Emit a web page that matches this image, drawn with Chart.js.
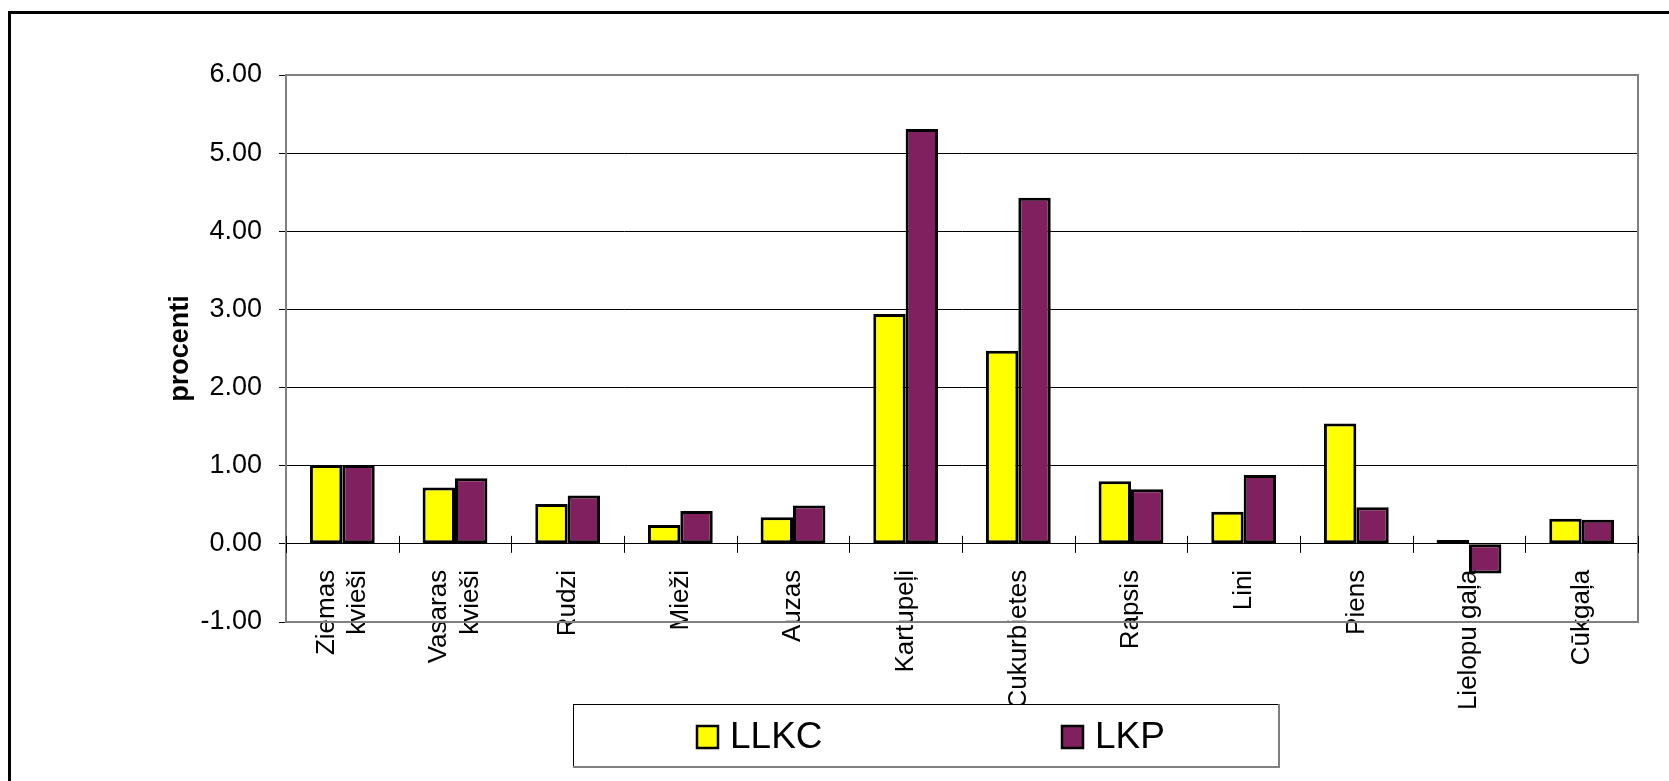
<!DOCTYPE html>
<html>
<head>
<meta charset="utf-8">
<script src="https://cdn.jsdelivr.net/npm/chart.js@4.4.1/dist/chart.umd.min.js"></script>
<style>
  html, body { margin: 0; padding: 0; background: #fff; }
  #wrap { position: relative; width: 1669px; height: 781px; }
</style>
</head>
<body>
<div id="wrap"><canvas id="chart"></canvas></div>
<script>
// categories (multi-line where the label wraps)
const categories = [
  ['Ziemas', 'kvieši'], ['Vasaras', 'kvieši'], 'Rudzi', 'Mieži', 'Auzas',
  'Kartupeļi', 'Cukurbietes', 'Rapsis', 'Lini', 'Piens', 'Lielopu gaļa', 'Cūkgaļa'
];
const seriesNames = ['LLKC', 'LKP'];
const llkcValues = [1.01, 0.72, 0.51, 0.24, 0.34, 2.94, 2.47, 0.80, 0.41, 1.54, 0.05, 0.32];
const lkpValues = [1.01, 0.84, 0.62, 0.42, 0.49, 5.31, 4.43, 0.70, 0.88, 0.47, -0.38, 0.31];
const yMin = -1, yMax = 6, yStep = 1;
const yTitle = 'procenti';

const FONT = "'Liberation Sans', Arial, sans-serif";
const X_FONT_SIZE = 26;
const X_LINE_HEIGHT = 1.23;

// outer frame, plot border and tick marks crossing the zero line
const framePlugin = {
  id: 'frame',
  beforeDraw(chart) {
    const ctx = chart.ctx;
    ctx.save();
    ctx.fillStyle = '#fff';
    ctx.fillRect(0, 0, chart.width, chart.height);
    ctx.restore();
    // centre wrapped category labels on their tick
    const lh = X_FONT_SIZE * X_LINE_HEIGHT;
    chart.scales.x.getLabelItems(chart.chartArea).forEach(it => {
      if (Array.isArray(it.label) && it.label.length > 1 && !it._centred) {
        it.options.translation[0] -= (it.label.length - 1) * lh / 2;
        it._centred = true;
      }
    });
  },
  afterDraw(chart) {
    const ctx = chart.ctx;
    const a = chart.chartArea;
    const xs = chart.scales.x;
    const ys = chart.scales.y;
    ctx.save();
    // plot area border
    ctx.strokeStyle = '#808080';
    ctx.lineWidth = 2;
    ctx.strokeRect(a.left, a.top, a.right - a.left, a.bottom - a.top);
    // category separators across the axis
    const y0 = ys.getPixelForValue(0);
    ctx.strokeStyle = '#000';
    ctx.lineWidth = 1;
    ctx.beginPath();
    for (let i = 0; i <= categories.length; i++) {
      const x = Math.round(xs.getPixelForValue(i - 0.5)) + 0.5;
      ctx.moveTo(x, y0 - 8);
      ctx.lineTo(x, y0 + 9);
    }
    ctx.stroke();
    // outer frame (left and top edges)
    ctx.strokeStyle = '#000';
    ctx.lineWidth = 3;
    ctx.beginPath();
    ctx.moveTo(9.5, chart.height + 5);
    ctx.lineTo(9.5, 12.5);
    ctx.lineTo(chart.width + 5, 12.5);
    ctx.stroke();
    ctx.restore();
  }
};

// boxed legend under the plot
const boxLegend = {
  id: 'boxLegend',
  afterDraw(chart, args, opts) {
    const ctx = chart.ctx;
    ctx.save();
    ctx.fillStyle = '#fff';
    ctx.fillRect(opts.x, opts.y, opts.w, opts.h);
    ctx.strokeStyle = '#000';
    ctx.lineWidth = 1;
    ctx.strokeRect(opts.x + 0.5, opts.y + 0.5, opts.w, opts.h);
    ctx.strokeStyle = '#808080';
    ctx.lineWidth = 2;
    ctx.beginPath();
    ctx.moveTo(opts.x + opts.w + 1, opts.y);
    ctx.lineTo(opts.x + opts.w + 1, opts.y + opts.h + 1);
    ctx.lineTo(opts.x, opts.y + opts.h + 1);
    ctx.stroke();
    ctx.font = opts.fontSize + 'px ' + FONT;
    ctx.textBaseline = 'middle';
    chart.data.datasets.forEach((ds, i) => {
      const ix = opts.itemX[i];
      const cy = opts.y + opts.h / 2 + 2;
      ctx.fillStyle = ds.backgroundColor;
      ctx.fillRect(ix, cy - 11, 21, 22);
      ctx.strokeStyle = '#000';
      ctx.lineWidth = 2.5;
      ctx.strokeRect(ix, cy - 11, 21, 22);
      ctx.fillStyle = '#000';
      ctx.fillText(ds.label, ix + 33, cy + 1);
    });
    ctx.restore();
  }
};

new Chart(document.getElementById('chart'), {
  type: 'bar',
  data: {
    labels: categories,
    datasets: [
      {
        label: seriesNames[0],
        data: llkcValues,
        backgroundColor: '#FFFF00',
        borderColor: '#000',
        borderWidth: 3,
        borderSkipped: false
      },
      {
        label: seriesNames[1],
        data: lkpValues,
        backgroundColor: '#80205E',
        borderColor: '#000',
        borderWidth: 3,
        borderSkipped: false
      }
    ]
  },
  options: {
    responsive: true,
    maintainAspectRatio: false,
    animation: false,
    categoryPercentage: 0.575,
    barPercentage: 1.0,
    layout: { padding: { left: 0, top: 75, right: 31, bottom: 159 } },
    plugins: {
      legend: { display: false },
      tooltip: { enabled: false },
      boxLegend: { x: 573, y: 704, w: 705, h: 62, fontSize: 37, itemX: [697, 1062] }
    },
    scales: {
      x: {
        position: { y: 0 },
        grid: { display: false, drawOnChartArea: false },
        border: { display: true, color: '#000', width: 1 },
        ticks: {
          autoSkip: false,
          minRotation: 90,
          maxRotation: 90,
          padding: 18,
          color: '#000',
          font: { family: FONT, size: X_FONT_SIZE, lineHeight: X_LINE_HEIGHT }
        }
      },
      y: {
        min: yMin,
        max: yMax,
        afterFit(scale) { scale.width = 286; },
        grid: { color: '#000', lineWidth: 1, tickLength: 7, tickColor: '#000' },
        border: { display: true, color: '#808080', width: 2 },
        ticks: {
          stepSize: yStep,
          padding: 17,
          color: '#000',
          font: { family: FONT, size: 27 },
          callback: v => Number(v).toFixed(2)
        },
        title: {
          display: true,
          text: yTitle,
          color: '#000',
          font: { family: FONT, size: 27, weight: 'bold' },
          padding: { top: 164, bottom: 0 }
        }
      }
    }
  },
  plugins: [framePlugin, boxLegend]
});
</script>
</body>
</html>
